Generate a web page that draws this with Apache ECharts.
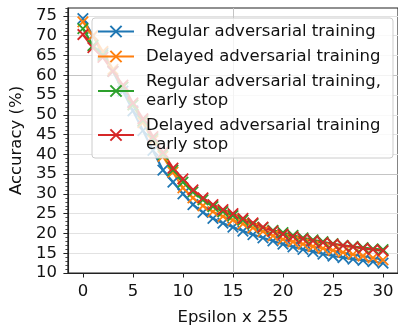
<!DOCTYPE html>
<html>
<head>
<meta charset="utf-8">
<script src="https://cdn.jsdelivr.net/npm/echarts@6/dist/echarts.min.js"></script>
<style>html,body{margin:0;padding:0;background:#fff}#c{width:398px;height:331px}</style>
</head>
<body>
<div id="c"></div>
<script>
var epsilons = [0,1,2,3,4,5,6,7,8,9,10,11,12,13,14,15,16,17,18,19,20,21,22,23,24,25,26,27,28,29,30];
var regular = [74.3,70,65.5,61,56,51,46,41,36,33,30,27.3,25.3,23.8,22.6,21.6,20.6,19.7,18.9,18.1,17.3,16.6,16,15.4,14.8,14.3,13.9,13.5,13.2,12.9,12.5];
var delayed = [73.5,70,66,61.5,57,52.5,48,43.5,39.5,35.5,31.5,29,27,25.5,24.3,23.4,22.4,21.4,20.5,19.4,18.5,17.9,17.3,16.7,16.2,15.7,15.2,14.7,14.3,13.8,13.3];
var regularEarly = [71.8,67.5,65,61,57,52.5,48.5,44,40,36,33,30.5,28.5,26.8,25.5,24.5,23.4,22.4,21.5,20.8,20.2,19.5,18.9,18.4,17.9,17.4,17,16.7,16.4,16.1,15.9];
var delayedEarly = [70.3,67,64.5,61,57.5,53,49,44.5,40.5,36.5,33.8,31,29,27.3,26,25,23.8,22.7,21.6,20.6,19.8,19.2,18.6,18.1,17.7,17.3,16.9,16.6,16.2,15.9,15.6];
var seriesNames = ['Regular adversarial training','Delayed adversarial training','Regular adversarial training,\nearly stop','Delayed adversarial training\nearly stop'];
var xTicks = [0,5,10,15,20,25,30];
var yTicks = [10,15,20,25,30,35,40,45,50,55,60,65,70,75];

var colors = ['#1f77b4','#ff7f0e','#2ca02c','#d62728'];
var values = [regular, delayed, regularEarly, delayedEarly];
var FONT = 'DejaVu Sans';
var XMARK = 'path://M0,0L10,10M0,10L10,0';

function pairs(ys){ return epsilons.map(function(x,i){ return [x, ys[i]]; }); }

var major = '#c4c4c4', minor = '#e2e2e2';
// x split lines every 0.5 starting at -1.5: major at 0,5,...
var xLineColors = []; for (var i=0;i<10;i++) xLineColors.push(i===3?major:'rgba(0,0,0,0)');
var yLineColors = [major, minor, minor, minor, minor];

var series = values.map(function(v,i){
  return {
    name: seriesNames[i], type:'line', data: pairs(v),
    symbol: XMARK, symbolSize: 10.5,
    lineStyle: {color: colors[i], width: 2.2},
    itemStyle: {color: colors[i], borderColor: colors[i], borderWidth: 1.8},
    emphasis: {disabled: true}, animation: false
  };
});

var chart = echarts.init(document.getElementById('c'), null, {renderer:'canvas'});
chart.setOption({
  animation: false,
  backgroundColor: '#fff',
  textStyle: {fontFamily: FONT},
  grid: {left: 64.5, right: -2, top: 8, bottom: 52, show: true, borderColor: '#222', borderWidth: 1.1, backgroundColor: 'transparent'},
  legend: {
    show: true, orient: 'vertical', left: 92, top: 18,
    padding: [4, 12, 4, 5], itemGap: 6, itemWidth: 36, itemHeight: 14,
    backgroundColor: 'rgba(255,255,255,0.8)', borderColor: '#cccccc', borderWidth: 1, borderRadius: 3,
    textStyle: {fontFamily: FONT, fontSize: 16.5, color: '#111', lineHeight: 19, padding: [0,0,0,7]},
    data: seriesNames
  },
  xAxis: [{
    type: 'value', min: -1.5, max: 31.5, interval: 0.5,
    name: 'Epsilon x 255', nameLocation: 'middle', nameGap: 36,
    nameTextStyle: {fontFamily: FONT, fontSize: 16.5, color: '#111'},
    axisLine: {show: true, onZero: false, lineStyle: {color: '#222', width: 1.1}},
    axisTick: {show: true, customValues: xTicks, length: 4.5, inside: false, lineStyle: {color: '#222', width: 1}},
    axisLabel: {customValues: xTicks, fontFamily: FONT, fontSize: 16.5, color: '#111', margin: 10},
    splitLine: {show: true, lineStyle: {color: xLineColors, width: 1}}
  }],
  yAxis: [{
    type: 'value', min: 10, max: 77, interval: 1,
    name: 'Accuracy (%)', nameLocation: 'middle', nameGap: 39,
    nameTextStyle: {fontFamily: FONT, fontSize: 16.5, color: '#111'},
    axisLine: {show: true, onZero: false, lineStyle: {color: '#222', width: 1.1}},
    axisTick: {show: true, customValues: yTicks, length: 4.5, lineStyle: {color: '#222', width: 1}},
    axisLabel: {customValues: yTicks, fontFamily: FONT, fontSize: 16.5, color: '#111', margin: 11},
    splitLine: {show: true, lineStyle: {color: yLineColors, width: 1}}
  }, {
    type: 'value', min: 10, max: 77, interval: 1, position: 'left',
    axisLine: {show: false, onZero: false}, axisLabel: {show: false}, splitLine: {show: false},
    axisTick: {show: true, length: 2.5, lineStyle: {color: '#222', width: 0.8}}
  }],
  series: series
});
</script>
</body>
</html>
